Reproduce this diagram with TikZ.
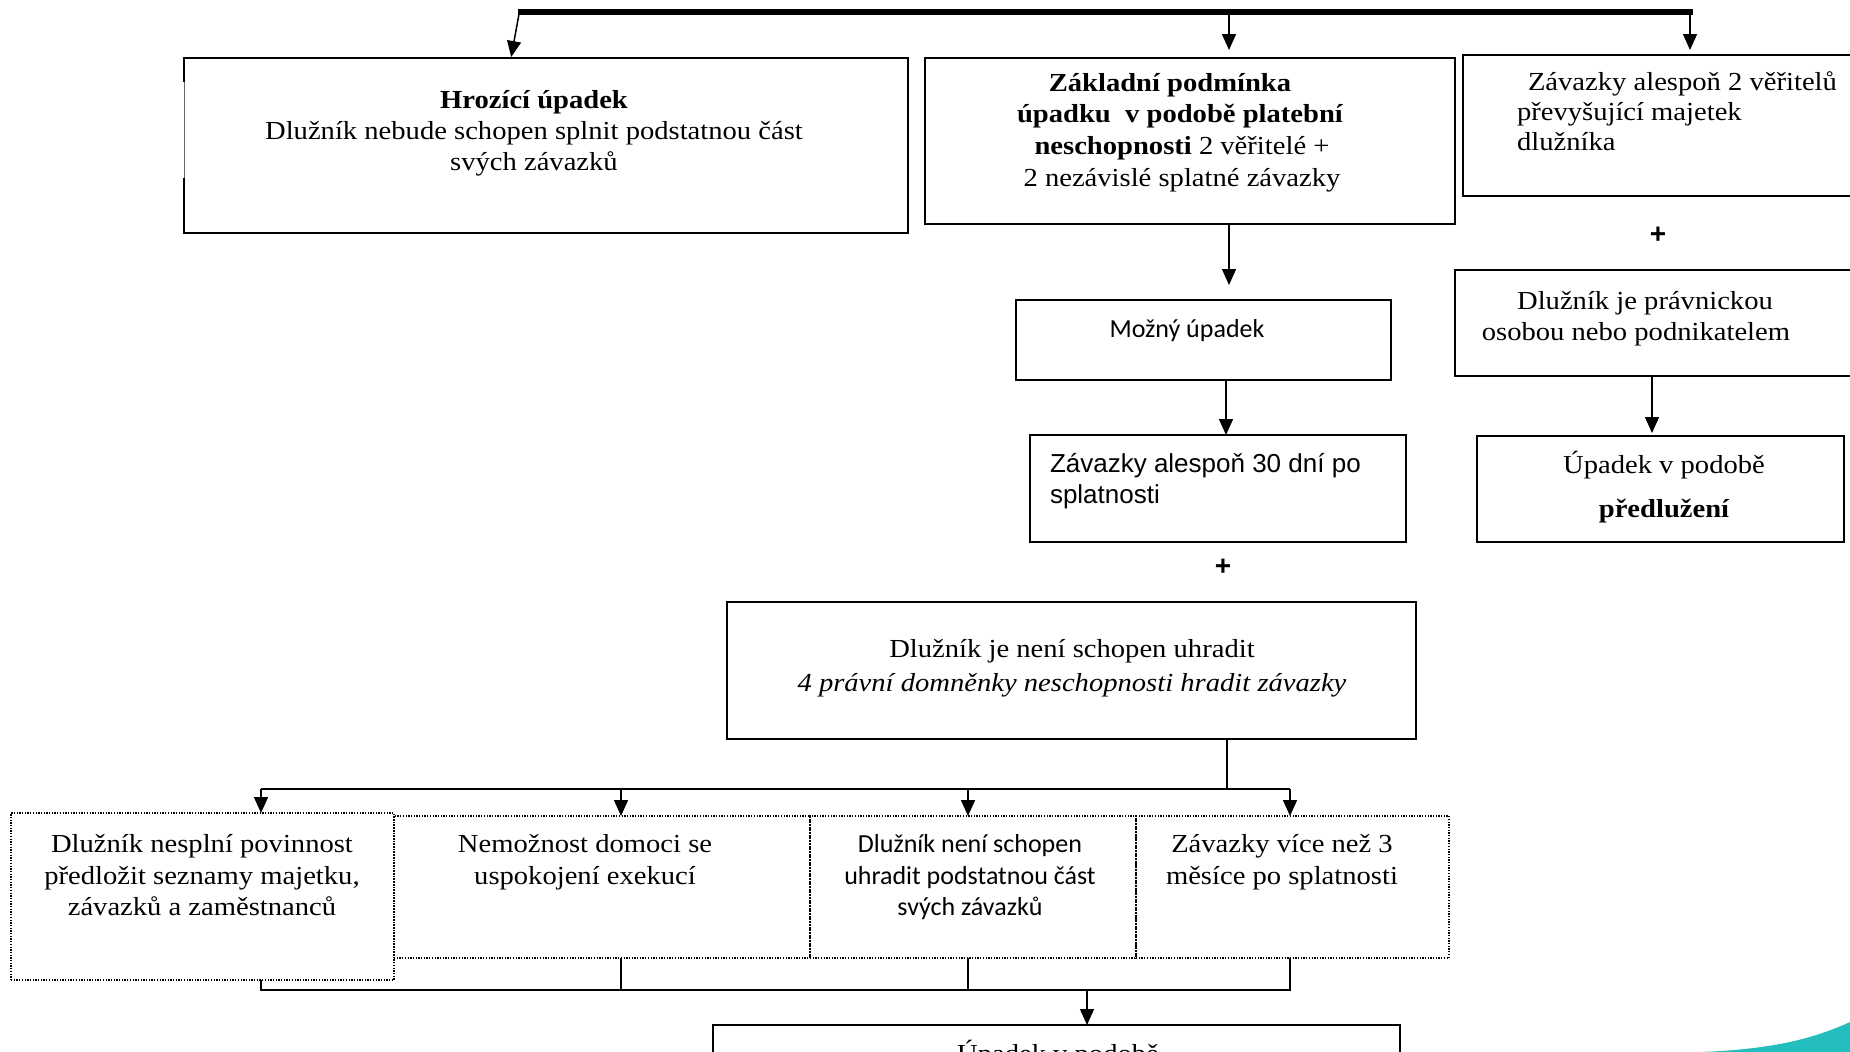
\documentclass[tikz,border=0pt]{standalone}
\usepackage{fontspec}
\setmainfont{Liberation Serif}[FakeStretch=1.1]
\newfontfamily\calib{Carlito}
\newfontfamily\arialf{Liberation Sans}
\usetikzlibrary{arrows.meta}
\definecolor{teal1}{RGB}{36,190,190}
\tikzset{
  box/.style={draw=black, line width=1.6pt, rectangle, inner sep=0pt, outer sep=0pt},
  dbox/.style={draw=black, line width=1.3pt, dash pattern=on 1.3pt off 1.4pt, rectangle, inner sep=0pt, outer sep=0pt},
  conn/.style={draw=black, line width=1.5pt},
  arr/.style={conn, -{Triangle[length=16pt,width=14pt]}},
  t/.style={inner sep=0pt, outer sep=0pt, anchor=base, font=\fontsize{26}{31}\selectfont},
  tl/.style={t, anchor=base west},
  ts/.style={t, font=\fontsize{26}{31}\selectfont\calib},
  ta/.style={tl, font=\fontsize{26}{31}\selectfont\arialf},
  plus/.style={inner sep=0pt, outer sep=0pt, font=\fontsize{28}{31}\selectfont\arialf\bfseries},
}
\begin{document}
\begin{tikzpicture}[x=1pt,y=-1pt]
\clip (0,0) rectangle (1850,1052);
\fill[white] (0,0) rectangle (1850,1052);

% boxes
\node[box, minimum width=724pt, minimum height=175pt] (A) at (546,145.5) {};
\node[box, minimum width=530pt, minimum height=166pt] (B) at (1190,141) {};
\node[box, line width=2.6pt, minimum width=397pt, minimum height=141pt] (C) at (1661.5,125.5) {};
\node[box, line width=2.2pt, minimum width=405pt, minimum height=106pt] (C2) at (1657.5,323) {};
\node[box, minimum width=375pt, minimum height=80pt] (D) at (1203.5,340) {};
\node[box, minimum width=376pt, minimum height=107pt] (E) at (1218,488.5) {};
\node[box, minimum width=367pt, minimum height=106pt] (I) at (1660.5,489) {};
\node[box, minimum width=689pt, minimum height=137pt] (F) at (1071.5,670.5) {};
\node[dbox, minimum width=383pt, minimum height=167pt] (G1) at (202.5,896.5) {};
\node[dbox, minimum width=416pt, minimum height=142pt] (G2) at (602,887) {};
\node[dbox, minimum width=326pt, minimum height=142pt] (G3) at (973,887) {};
\node[dbox, minimum width=313pt, minimum height=142pt] (G4) at (1292.5,887) {};
\node[box, line width=2pt, minimum width=687pt, minimum height=150pt] (H) at (1056.5,1100) {};

% thin middle part of the left edge of A
\draw[white, line width=2.2pt] (184,82) -- (184,178);
\draw[black!60, line width=0.8pt] (184,82) -- (184,178);

% top bar
\coordinate (barL) at (519,12);
\coordinate (barM) at (1229,12);
\coordinate (barR) at (1690,12);
\draw[line width=5.5pt] ([xshift=-1pt]barL) -- ([xshift=2.5pt]barR);
\draw[arr, shorten >=1pt] ([yshift=-2pt]barL) -- ([xshift=-35pt]A.north);
\draw[arr, shorten >=8pt] (barM) -- (barM |- B.north);
\draw[arr, shorten >=5pt] (barR) -- (barR |- C.north);

% middle column
\coordinate (bd) at (1229,0);
\coordinate (de) at (1226,0);
\coordinate (ci) at (1652,0);
\draw[arr, shorten >=15pt] (bd |- B.south) -- (bd |- D.north);
\draw[arr] (de |- D.south) -- (de |- E.north);
\draw[arr, shorten >=3pt] (ci |- C2.south) -- (ci |- I.north);

% fan out
\coordinate (split) at (1227,789);
\coordinate (g1) at (261,789);
\coordinate (g2) at (621,789);
\coordinate (g3) at (968,789);
\coordinate (g4) at (1290,789);
\coordinate (merge) at (1087,990);
\draw[conn] (split |- F.south) -- (split);
\draw[conn] (g1) -- (g4);
\draw[arr] (g1) -- (g1 |- G1.north);
\draw[arr] (g2) -- (g2 |- G2.north);
\draw[arr] (g3) -- (g3 |- G3.north);
\draw[arr] (g4) -- (g4 |- G4.north);
\draw[conn] (g1 |- G1.south) -- (g1 |- merge) -- (g4 |- merge) -- (g4 |- G4.south);
\draw[conn] (g2 |- G2.south) -- (g2 |- merge);
\draw[conn] (g3 |- G3.south) -- (g3 |- merge);
\draw[arr] (merge) -- (merge |- H.north);

% texts
\node[t] (a1) at (534,108) {\bfseries Hrozící úpadek};
\node[t] (a2) at (534,139) {Dlužník nebude schopen splnit podstatnou část};
\node[t] (a3) at (534,170) {svých závazků};

\node[t] (b1) at (1170,91) {\bfseries Základní podmínka};
\node[t] (b2) at (1180,122) {\bfseries úpadku\ \ v podobě platební};
\node[t] (b3) at (1182,154) {\textbf{neschopnosti} 2 věřitelé +};
\node[t] (b4) at (1182,186) {2 nezávislé splatné závazky};

\node[tl] (c1) at (1528,90) {Závazky alespoň 2 věřitelů};
\node[tl] (c2) at (1517,120) {převyšující majetek};
\node[tl] (c3) at (1517,150) {dlužníka};

\node[plus] (p1) at (1658,235) {+};

\node[t] (c21) at (1645,309) {Dlužník je právnickou};
\node[t] (c22) at (1636,340) {osobou nebo podnikatelem};

\node[ts] (d1) at (1187,337) {Možný úpadek};

\node[ta] (e1) at (1050,472) {Závazky alespoň 30 dní po};
\node[ta] (e2) at (1050,503) {splatnosti};

\node[t] (i1) at (1664,473) {Úpadek v podobě};
\node[t] (i2) at (1664,517) {\bfseries předlužení};

\node[plus] (p2) at (1223,567) {+};

\node[t] (f1) at (1072,657) {Dlužník je není schopen uhradit};
\node[t] (f2) at (1072,691) {\itshape 4 právní domněnky neschopnosti hradit závazky};

\node[t] (g11) at (202,852) {Dlužník nesplní povinnost};
\node[t] (g12) at (202,884) {předložit seznamy majetku,};
\node[t] (g13) at (202,915) {závazků a zaměstnanců};

\node[t] (g21) at (585,852) {Nemožnost domoci se};
\node[t] (g22) at (585,884) {uspokojení exekucí};

\node[ts] (g31) at (970,852) {Dlužník není schopen};
\node[ts] (g32) at (970,884) {uhradit podstatnou část};
\node[ts] (g33) at (970,915) {svých závazků};

\node[t] (g41) at (1282,852) {Závazky více než 3};
\node[t] (g42) at (1282,884) {měsíce po splatnosti};

\node[t] (h1) at (1058,1062) {Úpadek v podobě};

% teal swoosh
\fill[teal1] (1702,1052) .. controls (1775,1049) and (1815,1038) .. (1850,1022) -- (1850,1052) -- cycle;
\end{tikzpicture}
\end{document}
